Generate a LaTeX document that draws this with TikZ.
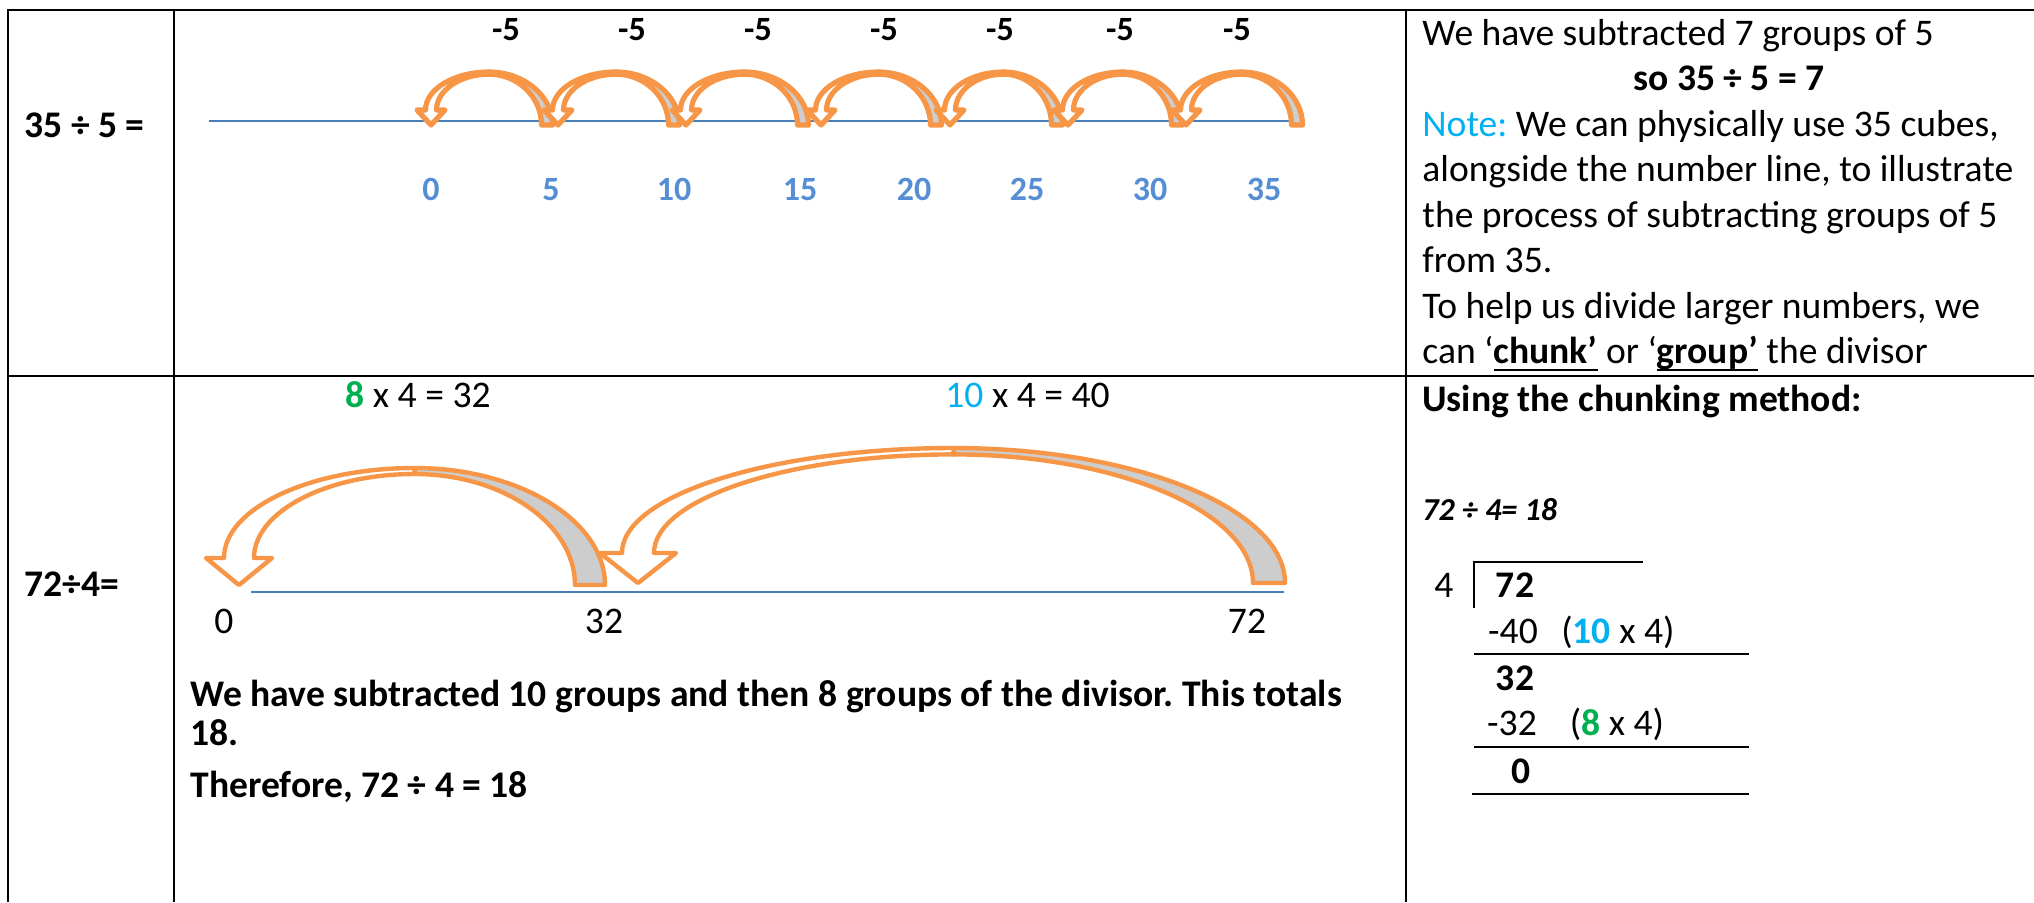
\documentclass[tikz,border=0pt]{standalone}
\usepackage{fontspec}
\setmainfont{Carlito}
\usepackage{tikz}
\usepackage{xcolor}
\usetikzlibrary{positioning}
\definecolor{jump}{HTML}{F79646}
\definecolor{back}{HTML}{CDCDCD}
\definecolor{lineblue}{HTML}{4A7EBB}
\definecolor{numblue}{HTML}{558ED5}
\definecolor{note}{HTML}{00B0F0}
\definecolor{eight}{HTML}{00B050}
\frenchspacing

\newcommand\thickul[1]{\setbox0\hbox{#1}\rlap{\rule[-3.9pt]{\wd0}{1.3pt}}\box0\relax}
% head x, tail x, apex y, base y, band, head half width, head depth, stroke
\newcommand\jumparrow[8]{%
  \pgfmathsetmacro\mx{(#1+#2)/2}%
  \pgfmathsetmacro\bw{#5/2}%
  \pgfmathsetmacro\hy{#4-#7}%
  \pgfmathsetmacro\gy{#3+0.2*#5}%
  \filldraw[fill=back,draw=jump,line width=#8,line join=round]
    (\mx,#3) .. controls ({\mx+0.55*(#2+\bw-\mx)},#3) and ({#2+\bw},{#4+0.55*(#3-#4)}) .. ({#2+\bw},#4)
    -- ({#2-\bw},#4) .. controls ({#2-\bw},{#4+0.55*(\gy-#4)}) and ({\mx+0.55*(#2-\bw-\mx)},\gy) .. (\mx,\gy) -- cycle;
  \filldraw[fill=white,draw=jump,line width=#8,line join=round]
    (\mx,#3) .. controls ({\mx+0.55*(#1-\bw-\mx)},#3) and ({#1-\bw},{\hy+0.55*(#3-\hy)}) .. ({#1-\bw},\hy)
    -- ({#1-#6},\hy) -- (#1,#4) -- ({#1+#6},\hy) -- ({#1+\bw},\hy)
    .. controls ({#1+\bw},{\hy+0.55*(\gy-\hy)}) and ({\mx+0.55*(#1+\bw-\mx)},\gy) .. (\mx,\gy) -- cycle;
}

\begin{document}
\begin{tikzpicture}[x=0.5pt,y=-0.5pt,
    txt/.style={anchor=base west,inner sep=0pt,font=\fontsize{18.8}{22}\selectfont},
    btxt/.style={txt,font=\fontsize{18.8}{22}\selectfont\bfseries},
    mid/.style={anchor=base,inner sep=0pt,font=\fontsize{18.8}{22}\selectfont},
    bmid/.style={mid,font=\fontsize{18.8}{22}\selectfont\bfseries},
    grid/.style={line width=0.9pt},
    numline/.style={draw=lineblue,line width=0.75pt}]
    \useasboundingbox (0,0) rectangle (2034,902);
    \draw[grid] (8,902) -- (8,10) -- (2034,10);
    \draw[grid] (8,376) -- (2034,376);
    \draw[grid] (174,10) -- (174,902);
    \draw[grid] (1406,10) -- (1406,902);

    \node[btxt] (q1) at (24,137) {35 ÷ 5 =};
    \node[btxt] (q2) at (24,596) {72÷4=};

    \coordinate (a0) at (209,121);
    \coordinate (a1) at (1303,121);
    \draw[numline] (a0) -- (a1);
    \foreach \xt/\xh/\xl [count=\i] in {547/431/506,674/558/632,803/686/758,
      936/821/884,1057/950/1000,1177/1068/1120,1297/1186/1237}
    {
        \jumparrow{\xh}{\xt}{72}{125}{11}{14}{15}{2.6pt}
        \node[bmid,font=\fontsize{17}{20}\selectfont\bfseries] (minus\i) at (\xl,40) {-5};
    }
    \foreach \x/\n [count=\i] in {431/0,551/5,674/10,800/15,914/20,1027/25,1150/30,1264/35}
    {
        \node[bmid,numblue,font=\fontsize{17}{20}\selectfont\bfseries] (n\i) at (\x,200) {\n};
    }

    \node[txt] (r1) at (1422,45) {We have subtracted 7 groups of 5};
    \node[bmid] (r2) at (1729,90.5) {so 35 ÷ 5 = 7};
    \node[txt] (r3) at (1422,136) {\textcolor{note}{Note:} We can physically use 35 cubes,};
    \node[txt] (r4) at (1422,181.5) {alongside the number line, to illustrate};
    \node[txt] (r5) at (1422,227) {the process of subtracting groups of 5};
    \node[txt] (r6) at (1422,272.5) {from 35.};
    \node[txt] (r7) at (1422,318) {To help us divide larger numbers, we};
    \node[txt] (r8) at (1422,363.5) {can ‘\thickul{\textbf{chunk’}} or ‘\thickul{\textbf{group’}} the divisor};

    \node[txt] (c8) at (345,407) {\textcolor{eight}{\textbf{8}} x 4 = 32};
    \node[txt] (c10) at (945,407) {\textcolor{note}{10} x 4 = 40};
    \coordinate (b0) at (251,592);
    \coordinate (b1) at (1284,592);
    \draw[numline] (b0) -- (b1);
    \jumparrow{239}{590}{468}{585}{30}{33}{27}{2.2pt}
    \jumparrow{638}{1269}{448}{583}{32}{38}{30}{2.2pt}
    \node[mid] (z0) at (224,633) {0};
    \node[mid] (z32) at (604,633) {32};
    \node[mid] (z72) at (1247,633) {72};
    \node[btxt] (s1) at (190,706) {We have subtracted 10 groups and then 8 groups of the divisor. This totals};
    \node[btxt] (s2) at (190,745) {18.};
    \node[btxt] (s3) at (190,797) {Therefore, 72 ÷ 4 = 18};

    \node[btxt] (u1) at (1422,411) {Using the chunking method:};
    \node[txt,font=\fontsize{16}{18}\selectfont\bfseries\itshape] (u2) at (1422,520) {72 ÷ 4= 18};
    \node[mid] (d4) at (1444,597) {4};
    \node[bmid] (d72) at (1515,597) {72};
    \node[mid] (d40) at (1513,643) {-40};
    \node[mid] (e40) at (1618,643) {(\textcolor{note}{\textbf{10}} x 4)};
    \node[bmid] (d32) at (1515,690) {32};
    \node[mid] (d32b) at (1512,735) {-32};
    \node[mid] (e32) at (1617,735) {(\textcolor{eight}{\textbf{8}} x 4)};
    \node[bmid] (d0) at (1521,783) {0};
    \draw[line width=0.6pt] (1474,608) -- (1474,562) -- (1643,562);
    \draw[line width=0.9pt] (1474,654) -- (1749,654);
    \draw[line width=0.9pt] (1474,747) -- (1749,747);
    \draw[line width=0.9pt] (1472,794) -- (1749,794);
\end{tikzpicture}
\end{document}
